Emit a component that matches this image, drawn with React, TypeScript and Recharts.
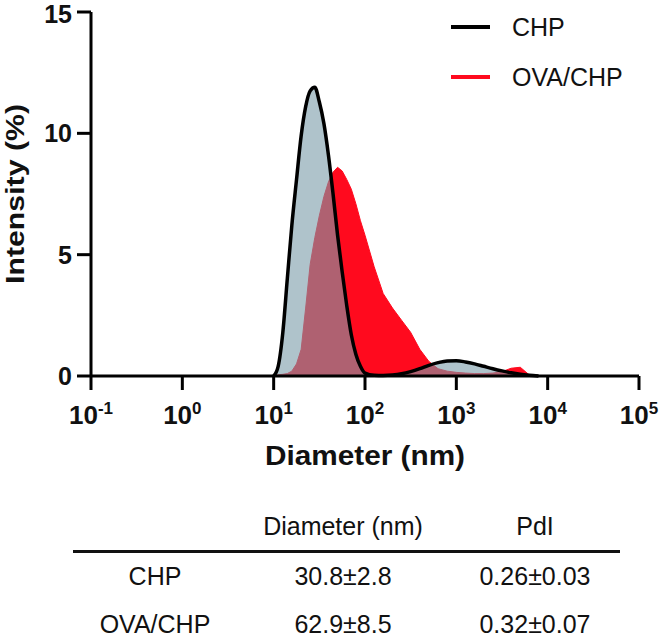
import { Area, AreaChart, Label, Legend, XAxis, YAxis } from "recharts";

// DLS size distribution, diameter in nm (log axis)
const diameters = [
  10, 11.2, 12.6, 14.1, 15.8, 17.8, 20, 22.4, 25.1, 28.2, 31.6, 35.5, 39.8, 44.7, 50.1, 56.2, 63.1,
  70.8, 79.4, 89.1, 100, 126, 158, 200, 251, 316, 398, 501, 631, 794, 1000, 1259, 1585, 1995, 2512,
  3162, 3981, 5012, 6310, 7943,
];
const chpIntensity = [
  0, 0.4, 1.8, 4.0, 6.2, 8.1, 9.9, 11.1, 11.75, 11.9, 11.3, 10.4, 9.1, 7.5, 5.8, 4.3, 2.9, 1.7, 0.9,
  0.4, 0.12, 0.03, 0.02, 0.04, 0.09, 0.18, 0.3, 0.44, 0.55, 0.62, 0.63, 0.58, 0.5, 0.4, 0.3, 0.21,
  0.13, 0.07, 0.03, 0,
];
const ovaChpIntensity = [
  0, 0.05, 0.07, 0.1, 0.2, 0.5, 1.1, 2.8, 4.6, 5.7, 6.6, 7.4, 8.0, 8.4, 8.6, 8.45, 8.1, 7.7, 7.1, 6.4,
  5.8, 4.5, 3.4, 2.8, 2.3, 1.8, 1.1, 0.6, 0.3, 0.2, 0.15, 0.12, 0.1, 0.1, 0.12, 0.18, 0.32, 0.36,
  0.04, 0,
];

const xTicks = [0.1, 1, 10, 100, 1000, 10000, 100000];
const yTicks = [0, 5, 10, 15];
const seriesNames = ["CHP", "OVA/CHP"];

const tableHeader = ["", "Diameter (nm)", "PdI"];
const tableSamples = ["CHP", "OVA/CHP"];
const tableDiameter = ["30.8±2.8", "62.9±8.5"];
const tablePdi = ["0.26±0.03", "0.32±0.07"];

const FONT = "'Liberation Sans', Arial, sans-serif";
const CHP_STROKE = "#000";
const CHP_FILL = "rgba(122,155,168,0.6)";
const OVA_COLOR = "#ff0a1e";

const rows = diameters.map((d, i) => ({
  d,
  chp: chpIntensity[i],
  ova: ovaChpIntensity[i],
}));

function XTick({ x, y, payload }: any) {
  const exp = Math.round(Math.log10(payload.value));
  return (
    <text x={x} y={y} dy={34} textAnchor="middle" fontFamily={FONT} fontWeight="bold" fontSize={26} fill="#111">
      10
      <tspan dy={-10} fontSize={17}>
        {exp}
      </tspan>
    </text>
  );
}

function YTick({ x, y, payload }: any) {
  // keep the top label inside the page
  const cy = Math.max(y, 14);
  return (
    <text x={x} y={cy} dy={9} textAnchor="end" fontFamily={FONT} fontWeight="bold" fontSize={25} fill="#111">
      {payload.value}
    </text>
  );
}

function LegendBox() {
  const colors = [CHP_STROKE, OVA_COLOR];
  return (
    <div style={{ fontFamily: FONT, fontSize: 25, color: "#111" }}>
      {seriesNames.map((name, i) => (
        <div key={name} style={{ display: "flex", alignItems: "center", height: 50 }}>
          <div style={{ width: 39, height: 4, background: colors[i], marginRight: 22 }} />
          <span>{name}</span>
        </div>
      ))}
    </div>
  );
}

const cellStyle = (center: number, capMid: number) => ({
  position: "absolute" as const,
  left: center - 110,
  top: capMid - 10,
  width: 220,
  textAlign: "center" as const,
  fontFamily: FONT,
  fontSize: 25,
  lineHeight: "20px",
  color: "#111",
});

export default function App() {
  const colCenters = [155, 343, 535];
  const rowMids = [576, 624];
  return (
    <div style={{ position: "absolute", left: 0, top: 0, width: 661, height: 637, background: "#fff" }}>
      <AreaChart width={661} height={480} data={rows} margin={{ top: 12, right: 22, bottom: 0, left: 0 }}>
        <XAxis
          dataKey="d"
          type="number"
          scale="log"
          domain={[0.1, 100000]}
          allowDataOverflow
          ticks={xTicks}
          interval={0}
          height={104}
          tickSize={14}
          tickMargin={0}
          tick={<XTick />}
          axisLine={{ stroke: "#000", strokeWidth: 3 }}
          tickLine={{ stroke: "#000", strokeWidth: 3 }}
        >
          <Label
            content={({ viewBox }: any) => (
              <text
                x={viewBox.x + viewBox.width / 2}
                y={465}
                textAnchor="middle"
                textLength={200}
                lengthAdjust="spacingAndGlyphs"
                fontFamily={FONT}
                fontWeight="bold"
                fontSize={28}
                fill="#111"
              >
                Diameter (nm)
              </text>
            )}
          />
        </XAxis>
        <YAxis
          type="number"
          domain={[0, 15]}
          ticks={yTicks}
          interval={0}
          width={91}
          tickSize={14}
          tickMargin={5}
          tick={<YTick />}
          axisLine={{ stroke: "#000", strokeWidth: 3 }}
          tickLine={{ stroke: "#000", strokeWidth: 3 }}
        >
          <Label
            content={({ viewBox }: any) => {
              const cy = viewBox.y + viewBox.height / 2;
              return (
                <text
                  x={24}
                  y={cy}
                  transform={`rotate(-90, 24, ${cy})`}
                  textAnchor="middle"
                  textLength={180}
                  lengthAdjust="spacingAndGlyphs"
                  fontFamily={FONT}
                  fontWeight="bold"
                  fontSize={26}
                  fill="#111"
                >
                  Intensity (%)
                </text>
              );
            }}
          />
        </YAxis>
        <Area
          dataKey="ova"
          name="OVA/CHP"
          type="linear"
          stroke={OVA_COLOR}
          strokeWidth={1}
          fill={OVA_COLOR}
          fillOpacity={1}
          isAnimationActive={false}
        />
        <Area
          dataKey="chp"
          name="CHP"
          type="monotone"
          stroke={CHP_STROKE}
          strokeWidth={3.5}
          fill={CHP_FILL}
          fillOpacity={1}
          isAnimationActive={false}
        />
        <Legend
          layout="horizontal"
          verticalAlign="middle"
          align="center"
          content={<LegendBox />}
          wrapperStyle={{ left: 451, top: 2, width: 210 }}
        />
      </AreaChart>

      {tableHeader.map((h, i) => (
        <div key={"h" + i} style={cellStyle(colCenters[i], 526)}>
          {h}
        </div>
      ))}
      <div style={{ position: "absolute", left: 73, top: 550, width: 547, height: 3, background: "#111" }} />
      {tableSamples.map((s, r) => (
        <div key={s}>
          <div style={cellStyle(colCenters[0], rowMids[r])}>{s}</div>
          <div style={cellStyle(colCenters[1], rowMids[r])}>{tableDiameter[r]}</div>
          <div style={cellStyle(colCenters[2], rowMids[r])}>{tablePdi[r]}</div>
        </div>
      ))}
    </div>
  );
}
